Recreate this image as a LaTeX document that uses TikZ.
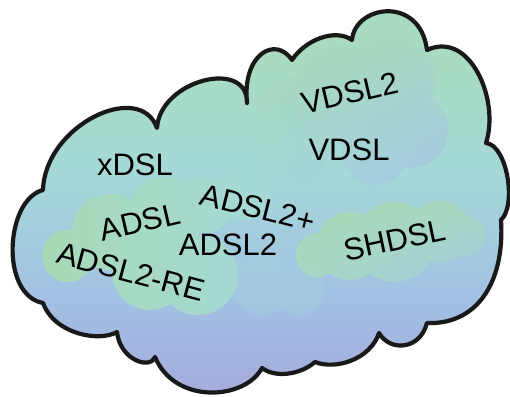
\documentclass[tikz,border=0pt]{standalone}
\usepackage{fontspec}
\setmainfont{Liberation Sans}
\usetikzlibrary{shadings}
\definecolor{cTop}{RGB}{168,219,192}
\definecolor{cMid}{RGB}{165,217,215}
\definecolor{cLow}{RGB}{162,192,228}
\definecolor{cBot}{RGB}{166,170,218}
\definecolor{cGreen}{RGB}{168,218,182}
\definecolor{cBlueish}{RGB}{164,192,232}
\newcommand\cloudoutline{(43,190) .. controls (45,125) and (140,80) .. (157,128)
 .. controls (160,80) and (248,58) .. (247,103)
 .. controls (242,55) and (275,35) .. (292,60)
 .. controls (305,40) and (335,28) .. (352,40)
 .. controls (355,5) and (420,-5) .. (427,50)
 .. controls (470,30) and (500,100) .. (486,143)
 .. controls (507,145) and (517,205) .. (501,220)
 .. controls (505,285) and (475,325) .. (427,323)
 .. controls (420,350) and (390,352) .. (379,333)
 .. controls (370,360) and (335,370) .. (315,362)
 .. controls (300,375) and (275,378) .. (262,368)
 .. controls (245,400) and (175,405) .. (155,357)
 .. controls (150,370) and (120,360) .. (117,332)
 .. controls (100,342) and (55,335) .. (43,303)
 .. controls (0,295) and (5,200) .. (43,190) -- cycle}
\tikzset{
  lbl/.style={font=\fontsize{31}{36}\selectfont, inner sep=0pt, text=black},
  outline/.style={draw=black!90, line width=4.2pt, line join=round}
}
\begin{document}
\begin{tikzpicture}[x=1pt,y=-1pt]
\useasboundingbox (0,0) rectangle (510,396);
\begin{scope}
  \clip \cloudoutline;
  \fill[cTop] (0,-5) rectangle (510,61);
  \shade[top color=cTop, bottom color=cMid] (0,60) rectangle (510,171);
  \shade[top color=cMid, bottom color=cLow] (0,170) rectangle (510,301);
  \shade[top color=cLow, bottom color=cBot] (0,300) rectangle (510,400);
  % faint bluish circles
  \fill[cMid!70!cLow, opacity=0.4] (262,285) circle[radius=30pt] (300,290) circle[radius=25pt];
  % ADSL blob
  \shade[left color=cGreen, right color=cMid]
    (68,256) circle[radius=26pt] (110,232) circle[radius=38pt]
    (165,215) circle[radius=38pt] (205,205) circle[radius=28pt]
    (150,272) circle[radius=38pt] (198,275) circle[radius=40pt]
    (245,195) circle[radius=25pt];
  % VDSL blob
  \shade[upper left=cGreen, upper right=cGreen!60!cMid, lower left=cMid, lower right=cBlueish!75!cMid]
    (300,120) circle[radius=45pt] (345,95) circle[radius=50pt]
    (392,80) circle[radius=43pt] (410,130) circle[radius=38pt]
    (375,152) circle[radius=33pt] (292,150) circle[radius=36pt];
  % SHDSL blob
  \shade[upper left=cGreen, upper right=cGreen!70!cMid, lower left=cGreen!60!cMid, lower right=cBlueish!60!cMid]
    (318,255) circle[radius=22pt] (350,246) circle[radius=34pt]
    (395,242) circle[radius=40pt] (440,232) circle[radius=31pt]
    (465,236) circle[radius=20pt];
\end{scope}
\draw[outline] \cloudoutline;
\node[lbl] (xdsl) at (135,165) {xDSL};
\node[lbl, rotate=13] (vdsl2) at (350,93) {VDSL2};
\node[lbl] (vdsl) at (349,150) {VDSL};
\node[lbl, rotate=13] (adsl) at (140,222) {ADSL};
\node[lbl, rotate=-14] (adslp) at (258,208) {ADSL2+};
\node[lbl] (adsl2) at (228,245) {ADSL2};
\node[lbl, rotate=-15] (adslre) at (131,272) {ADSL2-RE};
\node[lbl, rotate=12] (shdsl) at (395,240) {SHDSL};
\end{tikzpicture}
\end{document}
